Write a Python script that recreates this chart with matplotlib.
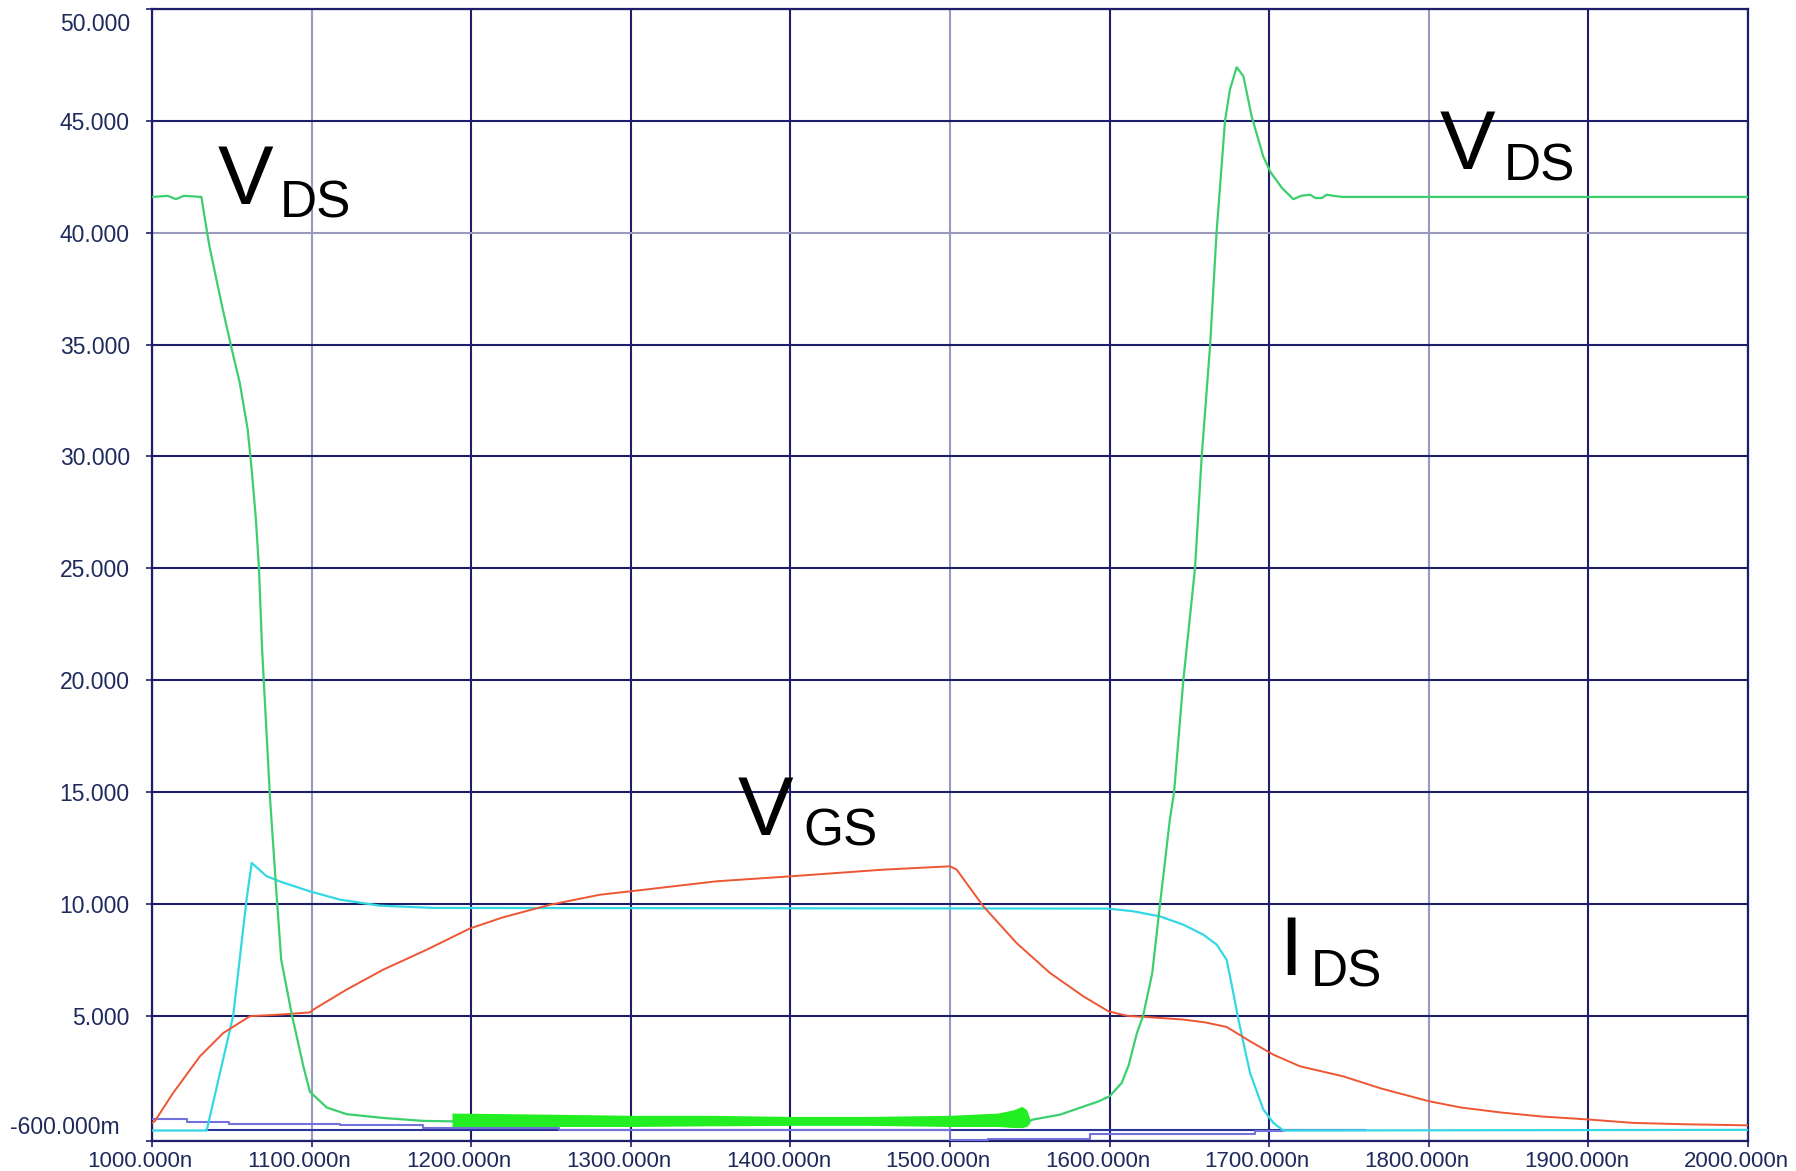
# switching waveform: VDS, VGS, IDS vs time
import matplotlib.pyplot as plt
from matplotlib.transforms import ScaledTranslation

plt.rcParams['font.family'] = ['Liberation Sans', 'DejaVu Sans']

# V_DS (green), ns / V
vds_t = [1000, 1010, 1015, 1020, 1031, 1033, 1036, 1044, 1050, 1055, 1060, 1062.5, 1065,
         1067, 1069, 1074, 1078, 1081, 1087.5, 1095, 1099, 1109.5, 1122, 1145, 1170, 1188]
vds_v = [41.6, 41.65, 41.5, 41.65, 41.6, 40.7, 39.4, 36.7, 34.8, 33.3, 31.2, 29.4, 27.3,
         25.1, 21.4, 14.7, 10.5, 7.5, 5.1, 2.7, 1.6, 0.9, 0.6, 0.43, 0.3, 0.28]

# ringing band on V_DS while the switch is on
ring_t = [1188, 1250, 1300, 1350, 1400, 1450, 1500, 1530, 1540, 1545, 1548, 1550]
ring_lo = [0.05, 0.05, 0.05, 0.08, 0.1, 0.1, 0.05, 0.05, 0.0, 0.0, 0.05, 0.2]
ring_hi = [0.65, 0.6, 0.55, 0.55, 0.5, 0.5, 0.55, 0.65, 0.8, 0.95, 0.8, 0.4]

vds2_t = [1550, 1552, 1569, 1593, 1600, 1607.6, 1612, 1617, 1621, 1626.7, 1631.6, 1637.8,
          1640.4, 1646.2, 1653.5, 1657.7, 1663, 1667, 1672.3, 1675.4, 1679.6, 1683.8, 1689,
          1696.3, 1700.9, 1708, 1715.1, 1720, 1725.6, 1729, 1732.9, 1736, 1740.2, 1746,
          1752.7, 2000]
vds2_v = [0.3, 0.36, 0.58, 1.17, 1.4, 2.0, 2.8, 4.2, 5.0, 6.9, 10.0, 13.8,
          15.0, 20.0, 25.0, 30.0, 35.0, 40.0, 45.0, 46.4, 47.4, 47.0, 45.2,
          43.4, 42.7, 42.0, 41.5, 41.65, 41.7, 41.55, 41.55, 41.7, 41.65, 41.6,
          41.6, 41.6]

# I_DS (cyan)
ids_t = [1000, 1034.3, 1050.9, 1059.3, 1062.5, 1071.8, 1080.2, 1099, 1117.8, 1142.9, 1176.3,
         1599, 1614.7, 1631.6, 1646.2, 1658.8, 1667.1, 1673.3, 1677.5, 1680.7, 1688, 1696.3,
         1702.6, 1708.9, 2000]
ids_v = [-0.13, -0.13, 5.0, 10.2, 11.83, 11.24, 11.0, 10.56, 10.19, 9.92, 9.82,
         9.79, 9.67, 9.44, 9.07, 8.62, 8.18, 7.51, 6.02, 4.83, 2.44, 0.81,
         0.21, -0.13, -0.1]

# V_GS (red)
vgs_t = [1000, 1001.9, 1013.3, 1030.1, 1044.7, 1061.4, 1080, 1099, 1101, 1122, 1144.9, 1172.1,
         1199.2, 1220, 1249.4, 1280.7, 1299.5, 1353.8, 1399.7, 1458.2, 1500, 1504.2, 1520.9,
         1541.7, 1562.7, 1583.5, 1599.2, 1610.7, 1631.6, 1646.2, 1660, 1673.3, 1688, 1702.6,
         1719.3, 1746.4, 1770, 1800, 1820, 1844.6, 1870, 1900.4, 1928.1, 1960, 2000]
vgs_v = [0.2, 0.3, 1.55, 3.19, 4.23, 4.98, 5.05, 5.15, 5.27, 6.17, 7.06, 7.95,
         8.9, 9.4, 9.96, 10.41, 10.56, 11.01, 11.23, 11.53, 11.68, 11.53, 9.89,
         8.25, 6.91, 5.87, 5.2, 5.0, 4.9, 4.83, 4.7, 4.5, 3.86, 3.26,
         2.74, 2.29, 1.75, 1.18, 0.9, 0.68, 0.5, 0.36, 0.21, 0.15, 0.1]

# small probe traces near zero (blue)
navy_t = [1034, 1760]
navy_v = [-0.12, -0.12]
blue_t = [1000, 1022, 1048, 1118, 1170, 1255, 1499, 1500, 1524, 1588, 1691, 1709, 1760]
blue_v = [0.4, 0.25, 0.17, 0.1, -0.02, -0.1, -0.1, -0.55, -0.49, -0.28, -0.17, -0.1, -0.1]

xticks = list(range(1000, 2001, 100))
xlabels = ['%d.000n' % t for t in xticks]
yticks = [-0.6, 5, 10, 15, 20, 25, 30, 35, 40, 45, 50]
ylabels = ['-600.000m', '5.000', '10.000', '15.000', '20.000', '25.000', '30.000',
           '35.000', '40.000', '45.000', '50.000']

navy = '#1e1e6a'
light = '#9a9abc'

fig = plt.figure(figsize=(17.96, 11.71), dpi=100)
ax = fig.add_axes([0.0846, 0.0256, 0.8887, 0.9667])

# traces
ax.plot(navy_t, navy_v, color='#2a3396', lw=1.5, zorder=3)
ax.plot(blue_t, blue_v, color='#7272dc', lw=1.5, drawstyle='steps-post', zorder=3)
ax.plot(ids_t, ids_v, color='#33d8e2', lw=1.6, zorder=4)
ax.plot(vgs_t, vgs_v, color='#ee5533', lw=1.4, zorder=5)
ax.fill_between(ring_t, ring_lo, ring_hi, color='#22ee22', lw=0, zorder=6)
ax.plot(vds_t, vds_v, color='#3ccf6e', lw=1.6, zorder=6)
ax.plot(vds2_t, vds2_v, color='#3ccf6e', lw=1.6, zorder=6)

ax.set_xlim(1000, 2000)
ax.set_ylim(-0.6, 50)

# ticks and grid
ax.set_xticks(xticks)
ax.set_xticklabels(xlabels)
ax.set_yticks(yticks)
ax.set_yticklabels(ylabels)
ax.tick_params(axis='both', colors=navy, labelcolor='#1f2a5c', labelsize=16.5,
               length=4, width=1.2, direction='out')
ax.tick_params(axis='x', labelsize=16, pad=3)
ax.tick_params(axis='y', pad=12)
for lab in ax.get_xticklabels():
    lab.set_transform(lab.get_transform() + ScaledTranslation(-0.12, 0, fig.dpi_scale_trans))
# end labels sit inside the frame like on the scope screen
ylab = ax.get_yticklabels()
ylab[0].set_transform(ylab[0].get_transform() + ScaledTranslation(-0.1, 0.16, fig.dpi_scale_trans))
ylab[-1].set_transform(ylab[-1].get_transform() + ScaledTranslation(0, -0.13, fig.dpi_scale_trans))

ax.grid(True, color=navy, lw=1.5, zorder=1)
ax.set_axisbelow(True)
xg = ax.xaxis.get_gridlines()
for i in [1, 5, 8]:
    xg[i].set_color(light)
ax.yaxis.get_gridlines()[8].set_color(light)

for s in ax.spines.values():
    s.set_color(navy)
    s.set_linewidth(1.6)

# trace labels
big = 60
small = 37
ax.text(1041, 41.3, 'V', fontsize=big, color='black', zorder=7)
ax.text(1080, 40.7, 'DS', fontsize=small, color='black', zorder=7)
ax.text(1807, 42.85, 'V', fontsize=big, color='black', zorder=7)
ax.text(1847, 42.35, 'DS', fontsize=small, color='black', zorder=7)
ax.text(1367, 13.1, 'V', fontsize=big, color='black', zorder=7)
ax.text(1408, 12.6, 'GS', fontsize=small, color='black', zorder=7)
ax.text(1706.5, 6.84, 'I', fontsize=big, color='black', zorder=7)
ax.text(1726, 6.31, 'DS', fontsize=small, color='black', zorder=7)

plt.savefig('out.png', dpi=100)
